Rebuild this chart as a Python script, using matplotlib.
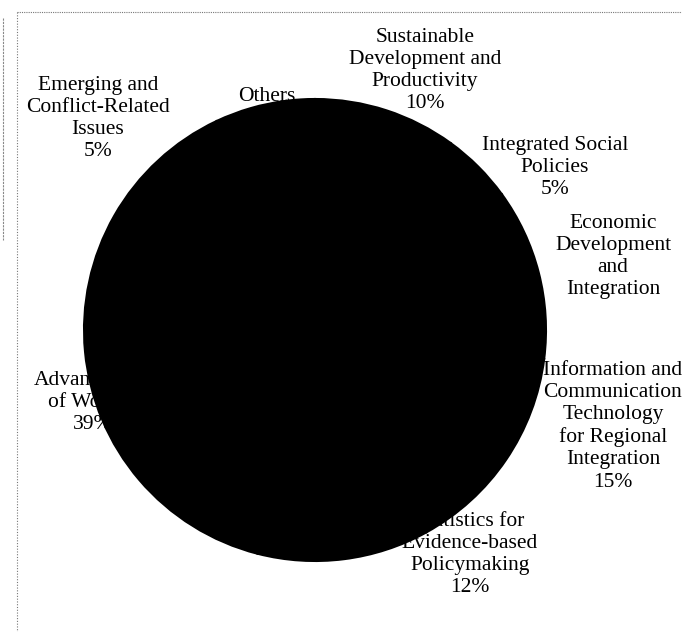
import matplotlib
matplotlib.use("Agg")
import matplotlib.pyplot as plt

# ── Data ──────────────────────────────────────────────────────────────────────
categories = [
    "Sustainable\nDevelopment and\nProductivity",
    "Integrated Social\nPolicies",
    "Economic\nDevelopment\nand\nIntegration",
    "Information and\nCommunication\nTechnology\nfor Regional\nIntegration",
    "Statistics for\nEvidence-based\nPolicymaking",
    "Advancement\nof Women",
    "Emerging and\nConflict-Related\nIssues",
    "Others",
]
shares = [10, 5, 12, 15, 12, 39, 5, 2]
show_pct = [True, True, False, True, True, True, True, False]

# label anchors (pixel coords: centre x, first-line centre y) -- layout only
label_pos = [
    (425, 36), (555, 144), (613, 222), (613, 369),
    (470, 520), (93, 379), (98, 84), (267, 95),
]

W, H = 682, 632
CX, CY, R = 315, 330, 231

fig = plt.figure(figsize=(W / 100, H / 100), dpi=100)
ax = fig.add_axes([0, 0, 1, 1])

ax.pie(
    shares,
    center=(CX, H - CY),
    radius=R,
    startangle=90,
    counterclock=False,
    colors=["black"] * len(shares),
    wedgeprops=dict(edgecolor="black", linewidth=1.5, zorder=3),
)

for name, val, pct, (x, y) in zip(categories, shares, show_pct, label_pos):
    txt = f"{name}\n{val}%" if pct else name
    ax.text(x, H - (y - 8), txt, ha="center", va="top", fontsize=15.5,
            family="Liberation Serif", linespacing=1.22, zorder=2)

# scanned frame
ax.plot([17, W], [H - 12, H - 12], color="#777777", lw=0.8, ls=(0, (1, 1)), zorder=1)
ax.plot([17, 17], [H - 12, 0], color="#777777", lw=0.8, ls=(0, (1, 1.5)), zorder=1)
ax.plot([3, 3], [H - 18, H - 240], color="#888888", lw=0.8, ls=(0, (2, 1)), zorder=1)

ax.set_xlim(0, W)
ax.set_ylim(0, H)
ax.set_aspect("equal")
ax.axis("off")

fig.savefig("out.png", dpi=100, facecolor="white")
